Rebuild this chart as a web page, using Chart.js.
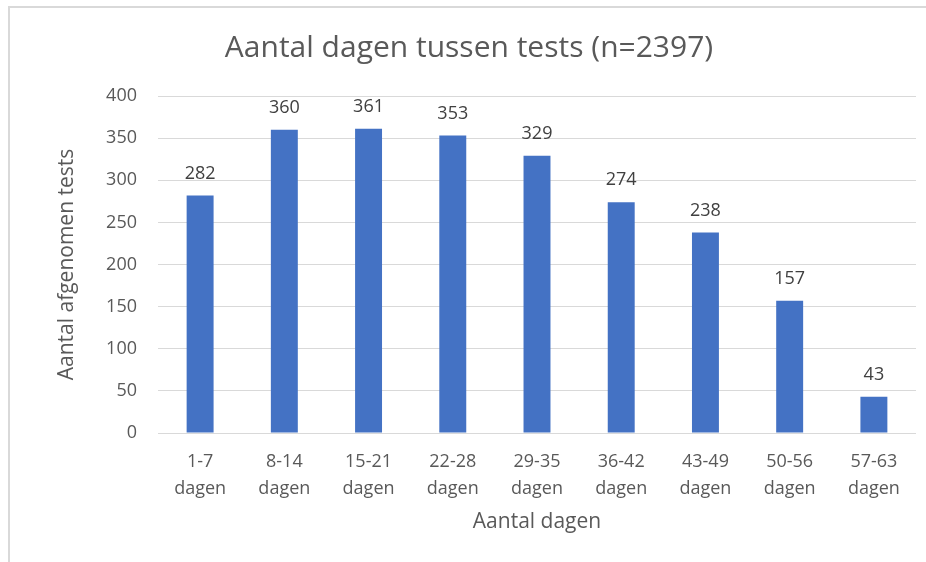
<!DOCTYPE html>
<html>
<head>
<meta charset="utf-8">
<script src="https://cdn.jsdelivr.net/npm/chart.js@4.4.1/dist/chart.umd.min.js"></script>
<style>
  html, body { margin: 0; padding: 0; background: #ffffff; }
  #wrap { position: relative; width: 926px; height: 562px; }
</style>
</head>
<body>
<div id="wrap"><canvas id="c" width="926" height="562"></canvas></div>
<script>
const categories = [
  ["1-7", "dagen"], ["8-14", "dagen"], ["15-21", "dagen"], ["22-28", "dagen"],
  ["29-35", "dagen"], ["36-42", "dagen"], ["43-49", "dagen"], ["50-56", "dagen"], ["57-63", "dagen"]
];
const testCounts = [282, 360, 361, 353, 329, 274, 238, 157, 43];
const yTicks = [0, 50, 100, 150, 200, 250, 300, 350, 400];
const chartTitle = "Aantal dagen tussen tests (n=2397)";
const yTitle = "Aantal afgenomen tests";
const xTitle = "Aantal dagen";

const FONT = "'Open Sans', Lato, sans-serif";
const GREY = "#595959";

const framePlugin = {
  id: 'frame',
  beforeDraw(chart) {
    const ctx = chart.ctx;
    ctx.save();
    ctx.fillStyle = '#ffffff';
    ctx.fillRect(0, 0, chart.width, chart.height);
    ctx.strokeStyle = '#d9d9d9';
    ctx.lineWidth = 2;
    ctx.beginPath();
    ctx.moveTo(9, chart.height);
    ctx.lineTo(9, 7);
    ctx.lineTo(chart.width, 7);
    ctx.stroke();
    ctx.restore();
  }
};

const valueLabels = {
  id: 'valueLabels',
  afterDatasetsDraw(chart) {
    const ctx = chart.ctx;
    ctx.save();
    ctx.font = "18px " + FONT;
    ctx.fillStyle = "#404040";
    ctx.textAlign = 'center';
    ctx.textBaseline = 'middle';
    const meta = chart.getDatasetMeta(0);
    meta.data.forEach((bar, i) => {
      ctx.fillText(String(chart.data.datasets[0].data[i]), bar.x, bar.y - 22);
    });
    ctx.restore();
  }
};

new Chart(document.getElementById('c'), {
  type: 'bar',
  data: {
    labels: categories,
    datasets: [{
      data: testCounts,
      backgroundColor: '#4472C4',
      borderWidth: 0,
      barPercentage: 0.32,
      categoryPercentage: 1.0
    }]
  },
  options: {
    responsive: false,
    animation: false,
    devicePixelRatio: 1,
    layout: { padding: { left: 22, right: 10, top: 0, bottom: 0 } },
    plugins: {
      legend: { display: false },
      tooltip: { enabled: false },
      title: {
        display: true,
        text: chartTitle,
        color: GREY,
        font: { family: FONT, size: 30, weight: 'normal', lineHeight: 1.2 },
        padding: { top: 30, bottom: 30 }
      }
    },
    scales: {
      x: {
        grid: { display: false, drawTicks: false },
        border: { display: false },
        ticks: {
          color: GREY,
          font: { family: FONT, size: 18, lineHeight: 1.5 },
          padding: 15,
          maxRotation: 0,
          autoSkip: false
        },
        title: {
          display: true,
          text: xTitle,
          color: GREY,
          font: { family: FONT, size: 21, lineHeight: 1.2 },
          padding: { top: 0, bottom: 27 }
        },
        afterFit(scale) { scale.height = 129; }
      },
      y: {
        min: 0,
        max: 400,
        afterBuildTicks(scale) { scale.ticks = yTicks.map(v => ({ value: v })); },
        grid: { color: '#d9d9d9', lineWidth: 1, drawTicks: false },
        border: { display: false },
        ticks: {
          color: GREY,
          font: { family: FONT, size: 18 },
          padding: 21
        },
        title: {
          display: true,
          text: yTitle,
          color: GREY,
          font: { family: FONT, size: 21, lineHeight: 1.2 },
          padding: { top: 32, bottom: 0 }
        },
        afterFit(scale) { scale.width = 136; }
      }
    }
  },
  plugins: [framePlugin, valueLabels]
});
</script>
</body>
</html>
